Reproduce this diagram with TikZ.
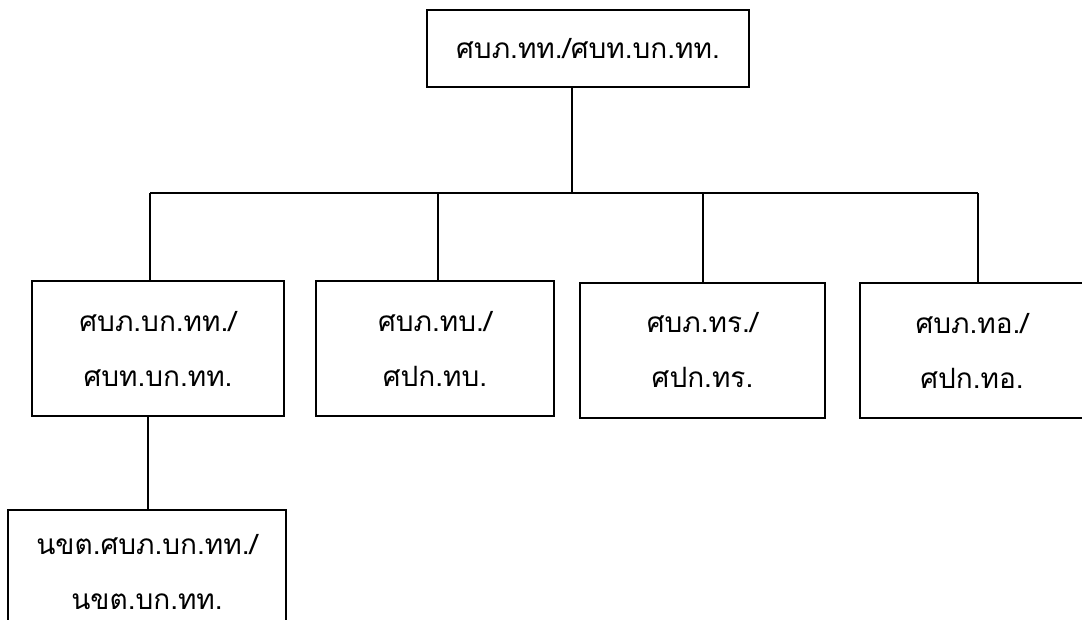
\documentclass[tikz,border=0pt]{standalone}
\usepackage{fontspec}
\newfontfamily\thaifont[Script=Thai]{Loma}
\begin{document}
\begin{tikzpicture}[x=1pt,y=-1pt,
  box/.style={draw=black,line width=1.6pt,rectangle,inner sep=0pt,align=center,
    font=\thaifont\fontsize{28}{55}\selectfont},
  link/.style={draw=black,line width=1.3pt}]
\useasboundingbox (0,0) rectangle (1082,619);
\clip (0,0) rectangle (1082,619);
\node[box,minimum width=322pt,minimum height=77pt] (top) at (588,48.5) {ศบภ.ทท./ศบท.บก.ทท.};
\node[box,minimum width=252pt,minimum height=135pt] (b1) at (158,348.5) {ศบภ.บก.ทท./\\ศบท.บก.ทท.};
\node[box,minimum width=238pt,minimum height=135pt] (b2) at (435,348.5) {ศบภ.ทบ./\\ศปก.ทบ.};
\node[box,minimum width=245pt,minimum height=135pt] (b3) at (702.5,350.5) {ศบภ.ทร./\\ศปก.ทร.};
\node[box,minimum width=224pt,minimum height=135pt] (b4) at (972,350.5) {ศบภ.ทอ./\\ศปก.ทอ.};
\node[box,minimum width=278pt,minimum height=124pt] (b5) at (147,572) {นขต.ศบภ.บก.ทท./\\นขต.บก.ทท.};
\coordinate (hub) at (572,193);
\coordinate (j1) at (150,193);
\coordinate (j2) at (438,193);
\coordinate (j3) at (703,193);
\coordinate (j4) at (978,193);
\coordinate (j5) at (148,416);
\draw[link] (hub |- top.south) -- (hub);
\draw[link] (j1) -- (j4);
\draw[link] (j1) -- (j1 |- b1.north);
\draw[link] (j2) -- (j2 |- b2.north);
\draw[link] (j3) -- (j3 |- b3.north);
\draw[link] (j4) -- (j4 |- b4.north);
\draw[link] (j5 |- b1.south) -- (j5 |- b5.north);
\end{tikzpicture}
\end{document}
